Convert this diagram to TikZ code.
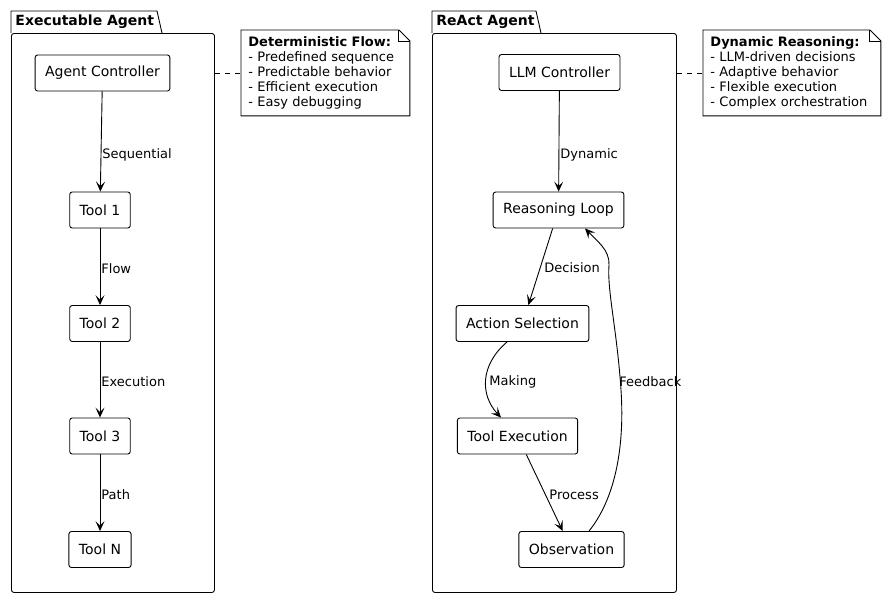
\documentclass[tikz,border=0pt]{standalone}
\usepackage{fontspec}
\setmainfont{DejaVu Sans}
\usetikzlibrary{arrows.meta}
\definecolor{inkcol}{RGB}{0,0,0}
\definecolor{paper}{RGB}{255,255,255}

\begin{document}
\begin{tikzpicture}[x=1pt,y=-1pt,line width=0.9pt,draw=inkcol,
  box/.style={draw,fill=paper,rounded corners=2.5pt,inner xsep=10pt,minimum height=36pt,font=\fontsize{14}{16}\selectfont},
  pkgbody/.style={draw,rounded corners=2.5pt,anchor=north west,inner sep=0pt},
  pkgtitle/.style={anchor=west,inner sep=0pt,font=\fontsize{14}{16}\selectfont\bfseries},
  notebox/.style={anchor=north west,inner xsep=7pt,inner ysep=4pt,align=left,font=\fontsize{13}{15}\selectfont},
  flow/.style={-{Stealth[length=10pt,width=9pt,inset=4.5pt]}},
  lbl/.style={anchor=west,inner sep=0pt,font=\fontsize{13}{15}\selectfont},
  link/.style={dash pattern=on 5pt off 5pt}]
  \useasboundingbox (0,0) rectangle (885,598);

  % executable agent package
  \node[pkgbody,minimum width=203pt,minimum height=559pt] (pkgA) at (11,33) {};
  \draw (pkgA.north west) -- ++(0,-22) -- ++(146,0) -- ++(5,22);
  \node[pkgtitle] (tA) at (15,22) {Executable Agent};

  \node[box] (agent) at (102.5,73) {Agent Controller};
  \node[box] (tool1) at (100,210) {Tool 1};
  \node[box] (tool2) at (100,323.5) {Tool 2};
  \node[box] (tool3) at (100,436) {Tool 3};
  \node[box] (toolN) at (100,549.5) {Tool N};

  \draw[flow] (agent) -- (tool1);
  \draw[flow] (tool1) -- (tool2);
  \draw[flow] (tool2) -- (tool3);
  \draw[flow] (tool3) -- (toolN);
  \node[lbl] (lSeq) at (102,154.5) {Sequential};
  \node[lbl] (lFlow) at (101,268.5) {Flow};
  \node[lbl] (lExec) at (101,381.5) {Execution};
  \node[lbl] (lPath) at (101,494.5) {Path};

  % react agent package
  \node[pkgbody,minimum width=244pt,minimum height=559pt] (pkgB) at (432,33) {};
  \draw (pkgB.north west) -- ++(0,-22) -- ++(104,0) -- ++(5,22);
  \node[pkgtitle] (tB) at (436,22) {ReAct Agent};

  \node[box] (llm) at (559.5,72.5) {LLM Controller};
  \node[box] (loop) at (558.5,210) {Reasoning Loop};
  \node[box] (action) at (522.5,323.5) {Action Selection};
  \node[box] (texec) at (517.5,436) {Tool Execution};
  \node[box] (obs) at (571.5,549.5) {Observation};

  \draw[flow] (llm) -- (loop);
  \draw[flow] (loop) -- (action);
  \draw[flow] ([xshift=-15.5pt]action.south) .. controls (480,365) and (480,395) .. ([xshift=-16.5pt]texec.north);
  \draw[flow] (texec) -- (obs);
  \draw[flow] ([xshift=17.5pt]obs.north) .. controls (614,500) and (625,450) .. (621,390)
    .. controls (617,330) and (607,290) .. (609,265)
    .. controls (610,250) and (596,240) .. ([xshift=26.5pt]loop.south);
  \node[lbl] (lDyn) at (560,154.5) {Dynamic};
  \node[lbl] (lDec) at (544,267.5) {Decision};
  \node[lbl] (lMak) at (489,381.5) {Making};
  \node[lbl] (lPro) at (549,494.5) {Process};
  \node[lbl] (lFee) at (619,381.5) {Feedback};

  % notes
  \node[notebox,text width=154pt,minimum height=85pt] (noteA) at (241,30)
    {\textbf{Deterministic Flow:}\\- Predefined sequence\\- Predictable behavior\\- Efficient execution\\- Easy debugging};
  \draw (noteA.south west) -- (noteA.north west) -- ([xshift=-11pt]noteA.north east)
    -- ([yshift=-11pt]noteA.north east) -- (noteA.south east) -- cycle;
  \draw ([xshift=-11pt]noteA.north east) |- ([yshift=-11pt]noteA.north east);

  \node[notebox,text width=163pt,minimum height=85pt] (noteB) at (703,30)
    {\textbf{Dynamic Reasoning:}\\- LLM-driven decisions\\- Adaptive behavior\\- Flexible execution\\- Complex orchestration};
  \draw (noteB.south west) -- (noteB.north west) -- ([xshift=-11pt]noteB.north east)
    -- ([yshift=-11pt]noteB.north east) -- (noteB.south east) -- cycle;
  \draw ([xshift=-11pt]noteB.north east) |- ([yshift=-11pt]noteB.north east);

  \draw[link] (pkgA.east |- noteA.west) -- (noteA.west);
  \draw[link] (pkgB.east |- noteB.west) -- (noteB.west);
\end{tikzpicture}
\end{document}
